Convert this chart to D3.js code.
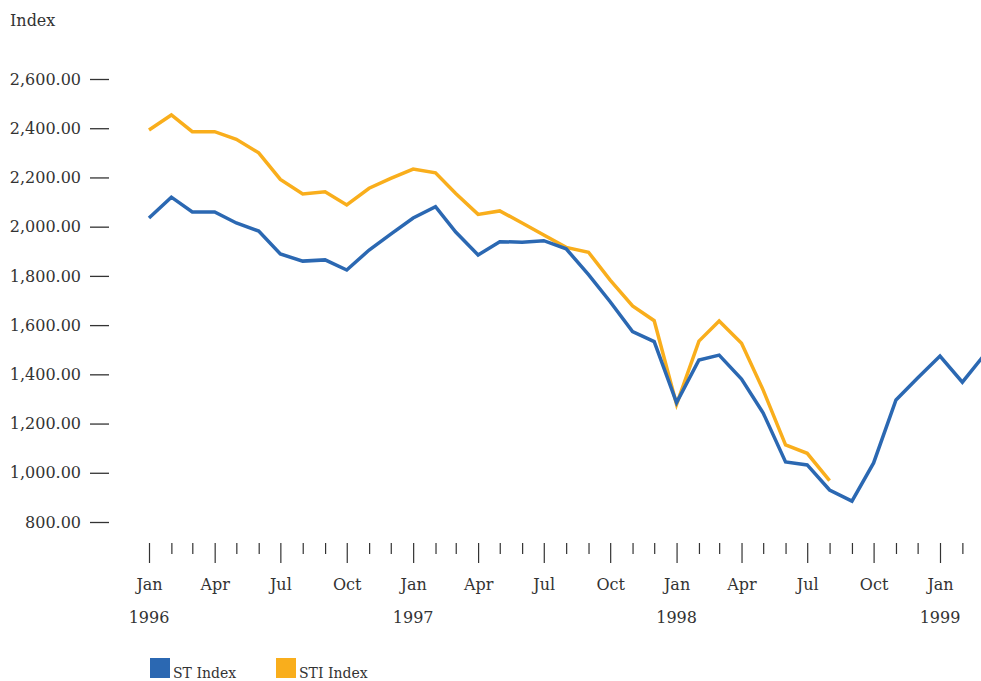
<!DOCTYPE html>
<html>
<head>
<meta charset="utf-8">
<script src="https://cdn.jsdelivr.net/npm/d3@7"></script>
<style>
  html, body { margin: 0; padding: 0; background: #fff; }
  svg { display: block; font-family: "DejaVu Serif", serif; }
</style>
</head>
<body>
<svg id="chart" width="981" height="681"></svg>
<script>
// Monthly closing levels, January 1996 onward
const stIndex = [
  2035, 2120, 2060, 2060, 2015, 1982, 1889, 1860, 1865, 1824, 1905, 1970,
  2035, 2081, 1978, 1885, 1939, 1937, 1943, 1910, 1805, 1695, 1574, 1533,
  1285, 1458, 1478, 1381, 1243, 1044, 1032, 930, 885, 1040, 1296, 1385,
  1474, 1368, 1470
];
const stiIndex = [
  2393, 2454, 2386, 2386, 2355, 2300, 2192, 2133, 2142, 2088, 2156, 2196,
  2234, 2219, 2135, 2050, 2064, 2015, 1966, 1916, 1896, 1783, 1678, 1618,
  1278, 1535, 1617, 1526, 1336, 1113, 1079, 968
];
const seriesNames = ["ST Index", "STI Index"];
const seriesColors = ["#2b68b2", "#f9ae1c"];
const yTicks = [800, 1000, 1200, 1400, 1600, 1800, 2000, 2200, 2400, 2600];
const monthNames = ["Jan", "Feb", "Mar", "Apr", "May", "Jun", "Jul", "Aug", "Sep", "Oct", "Nov", "Dec"];

const start = new Date(1996, 0, 1);
const monthDate = i => d3.timeMonth.offset(start, i);

const svg = d3.select("#chart");

const x = d3.scaleTime()
  .domain([new Date(1996, 0, 1), new Date(1999, 0, 1)])
  .range([149, 940]);
const y = d3.scaleLinear()
  .domain([800, 2600])
  .range([522, 79]);

// Axis title
svg.append("text")
  .attr("x", 10).attr("y", 26)
  .attr("font-size", 16).attr("fill", "#333")
  .text("Index");

// Y axis: labels with a short dash to their right
const fmt = d3.format(",.2f");
const yAxis = svg.append("g")
  .attr("transform", "translate(109,0)")
  .call(d3.axisLeft(y).tickValues(yTicks).tickSize(19).tickPadding(9).tickFormat(fmt));
yAxis.select(".domain").remove();
yAxis.selectAll("line").attr("stroke", "#333").attr("stroke-width", 1.3);
yAxis.selectAll("text").attr("font-size", 16).attr("fill", "#333")
  .attr("font-family", "DejaVu Serif, serif");

// X axis: monthly minor ticks, quarterly labelled ticks
const months = d3.timeMonth.range(new Date(1996, 0, 1), new Date(1999, 2, 1));
const quarters = months.filter(d => d.getMonth() % 3 === 0);
const minors = months.filter(d => d.getMonth() % 3 !== 0);

const xMinor = svg.append("g")
  .attr("transform", "translate(0,543)")
  .call(d3.axisBottom(x).tickValues(minors).tickSize(11).tickFormat(""));
const xMajor = svg.append("g")
  .attr("transform", "translate(0,543)")
  .call(d3.axisBottom(x).tickValues(quarters).tickSize(20).tickPadding(16)
    .tickFormat(d => monthNames[d.getMonth()]));
[xMinor, xMajor].forEach(g => {
  g.select(".domain").remove();
  g.selectAll("line").attr("stroke", "#333").attr("stroke-width", 1.2);
  g.selectAll("text").attr("font-size", 16).attr("fill", "#333")
    .attr("font-family", "DejaVu Serif, serif");
});

// Year labels under each January
svg.append("g").selectAll("text")
  .data(quarters.filter(d => d.getMonth() === 0))
  .join("text")
  .attr("x", d => x(d)).attr("y", 623)
  .attr("text-anchor", "middle")
  .attr("font-size", 16).attr("fill", "#333")
  .text(d => d.getFullYear());

// Lines
const line = d3.line()
  .x((d, i) => x(monthDate(i)))
  .y(d => y(d));

[stIndex, stiIndex].forEach((vals, k) => {
  svg.append("path")
    .datum(vals)
    .attr("fill", "none")
    .attr("stroke", seriesColors[k])
    .attr("stroke-width", 3.5)
    .attr("stroke-linejoin", "miter")
    .attr("d", line);
});

// Draw the ST line on top where they overlap
svg.selectAll("path").filter(function () { return d3.select(this).attr("stroke") === seriesColors[0]; }).raise();

// Legend
const legendX = [150, 276];
const legend = svg.append("g").selectAll("g")
  .data(seriesNames)
  .join("g")
  .attr("transform", (d, i) => `translate(${legendX[i]},658)`);
legend.append("rect")
  .attr("width", 20).attr("height", 20)
  .attr("fill", (d, i) => seriesColors[i]);
legend.append("text")
  .attr("x", 23).attr("y", 20)
  .attr("font-size", 14).attr("fill", "#333")
  .text(d => d);
</script>
</body>
</html>
